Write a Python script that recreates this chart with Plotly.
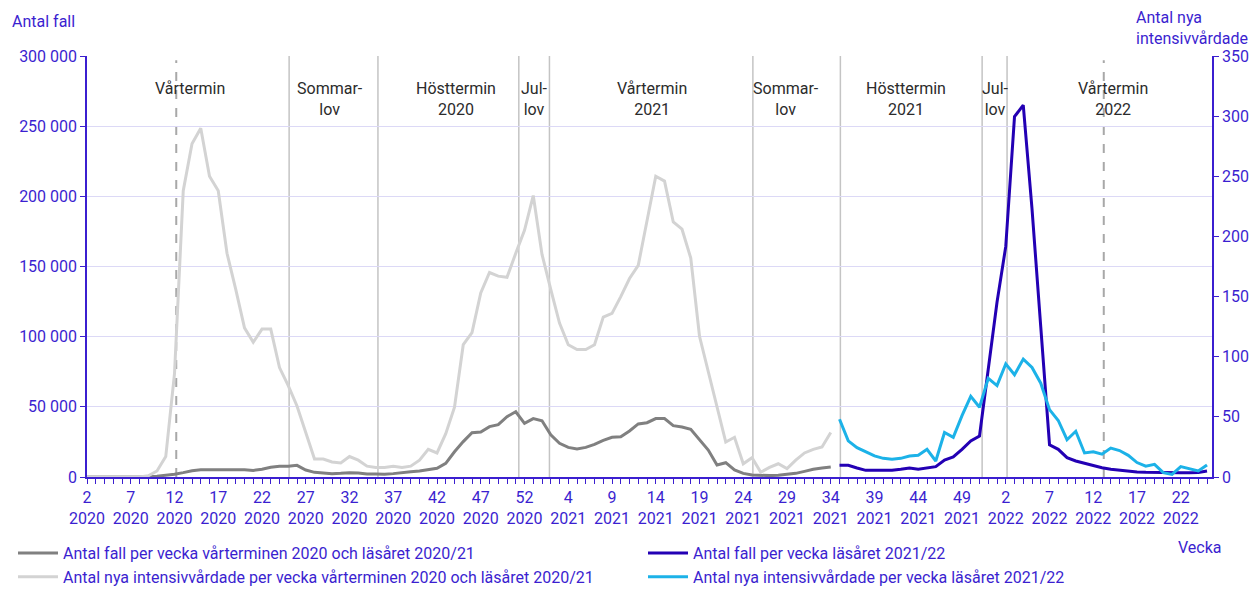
import plotly.graph_objects as go

# ---------------- data ----------------
# x positions are consecutive ISO weeks, index 0 = week 2 of 2020
tick_weeks = [2, 7, 12, 17, 22, 27, 32, 37, 42, 47, 52, 4, 9, 14, 19, 24, 29, 34, 39, 44, 49, 2, 7, 12, 17, 22]
tick_years = [2020] * 11 + [2021] * 10 + [2022] * 5

cases_2020_21 = [0, 0, 0, 0, 0, 0, 0, 200, 600, 1200, 1900, 3100, 4500, 5200, 5300, 5300, 5300, 5200, 5100, 4700,
                 5500, 6900, 7600, 7600, 8300, 5000, 3300, 2600, 2400, 2600, 3100, 2800, 2100, 2100, 1900, 2400,
                 3300, 3800, 4300, 5000, 6200, 9700, 18000, 25200, 31600, 32000, 35900, 37300, 43000, 46500,
                 38200, 41600, 40100, 30000, 24000, 21100, 20000, 21100, 23300, 26100, 28300, 28700, 32800,
                 37800, 38700, 41600, 41600, 36600, 35600, 34000, 26400, 19200, 8600, 10200, 5000, 2600, 1400,
                 1000, 1000, 1200, 1900, 2600, 4000, 5500, 6400, 7100]
icu_2020_21 = [0, 0, 0, 0, 0, 0, 0, 1, 5, 17, 86, 238, 277, 290, 250, 238, 186, 156, 124, 112, 123, 123, 91, 76,
               59, 37, 15, 15, 12.5, 11.6, 17, 14, 9, 8, 8, 9, 8, 9, 14, 23, 20, 36, 58, 110, 120, 153, 170, 167,
               166, 186, 205, 234, 185, 156, 128, 110, 106, 106, 110, 133, 136, 150, 165, 176, 212, 250, 246,
               212, 206, 182, 117, 88, 60, 29, 33, 11, 16, 4, 8, 11, 7, 14, 20, 23, 25, 37]
cases_2021_22 = [8300, 8300, 6400, 4750, 4750, 4750, 4750, 5460, 6400, 5460, 6400, 7360, 12100, 14250, 19700,
                 25650, 29200, 75000, 124500, 164300, 256800, 265000, 191000, 107000, 23000, 19700, 13800,
                 11400, 9700, 8300, 6650, 5460, 4750, 4040, 3560, 3300, 3100, 3000, 3000, 3000, 3000, 3200, 4300]
icu_2021_22 = [48, 30, 24.4, 20.8, 17.5, 15.5, 14.7, 15.5, 17.5, 18, 23, 13.3, 37, 33, 51, 67, 58, 82, 76, 94,
               85, 98, 91, 78, 56, 47, 31, 38, 20, 21, 19, 24, 22, 18, 12, 9, 10.5, 3.6, 2.2, 8.6, 6.9, 5, 10]

left_ticks = [0, 50000, 100000, 150000, 200000, 250000, 300000]
left_ticktext = ["0", "50 000", "100 000", "150 000", "200 000", "250 000", "300 000"]
right_ticks = [0, 50, 100, 150, 200, 250, 300, 350]

period_labels = ["Vårtermin", "Sommar-<br>lov", "Hösttermin<br>2020", "Jul-<br>lov", "Vårtermin<br>2021",
                 "Sommar-<br>lov", "Hösttermin<br>2021", "Jul-<br>lov", "Vårtermin<br>2022"]
period_label_pos = [11.77, 27.77, 42.17, 51.09, 64.57, 79.89, 93.6, 103.83, 117.26]
boundary_solid = [23.1, 33.25, 49.35, 52.85, 76.1, 86.1, 102.3, 105.15]
boundary_dashed = [10.2, 116.2]

# ---------------- styling ----------------
BLUE = "#3b1fd0"
FONT = "Roboto"
PH = 421.0   # plot height in px
PW = 1125.0  # plot width in px


def px_x(p):
    return (p - 87) / PW


def px_y(p):
    return (477 - p) / PH


x_a = list(range(0, len(cases_2020_21)))
x_c = list(range(len(cases_2020_21), len(cases_2020_21) + len(cases_2021_22)))

fig = go.Figure()
fig.add_trace(go.Scatter(x=x_a, y=cases_2020_21, mode="lines", yaxis="y", legend="legend", legendrank=1,
                         name="Antal fall per vecka vårterminen 2020 och läsåret 2020/21",
                         line=dict(color="#808080", width=3)))
fig.add_trace(go.Scatter(x=x_a, y=icu_2020_21, mode="lines", yaxis="y2", legend="legend", legendrank=2,
                         name="Antal nya intensivvårdade per vecka vårterminen 2020 och läsåret 2020/21",
                         line=dict(color="#d3d3d3", width=3)))
fig.add_trace(go.Scatter(x=x_c, y=icu_2021_22, mode="lines", yaxis="y2", legend="legend2", legendrank=4,
                         name="Antal nya intensivvårdade per vecka läsåret 2021/22",
                         line=dict(color="#1cb2e8", width=3)))
fig.add_trace(go.Scatter(x=x_c, y=cases_2021_22, mode="lines", yaxis="y", legend="legend2", legendrank=3,
                         name="Antal fall per vecka läsåret 2021/22",
                         line=dict(color="#2300b4", width=3)))

shapes = []
for b in boundary_solid:
    shapes.append(dict(type="line", xref="x", yref="paper", x0=b, x1=b, y0=0, y1=1,
                       line=dict(color="#c4c4c4", width=1.5), layer="below"))
for b in boundary_dashed:
    shapes.append(dict(type="line", xref="x", yref="paper", x0=b, x1=b, y0=0, y1=0.99,
                       line=dict(color="#a8a8a8", width=2, dash="dash"), layer="below"))

annotations = []
for lab, pos in zip(period_labels, period_label_pos):
    annotations.append(dict(x=pos, xref="x", y=px_y(77), yref="paper", text=lab,
                            showarrow=False, yanchor="top", xanchor="center",
                            font=dict(family=FONT, size=16, color="#2b2b2b")))
annotations.append(dict(x=px_x(10), xref="paper", y=px_y(22), yref="paper",
                        text="Antal fall", showarrow=False, xanchor="left", yanchor="middle",
                        font=dict(family=FONT, size=16, color=BLUE)))
annotations.append(dict(x=px_x(1134), xref="paper", y=px_y(27.5), yref="paper",
                        text="Antal nya<br>intensivvårdade", showarrow=False, xanchor="left",
                        yanchor="middle", align="left", font=dict(family=FONT, size=16, color=BLUE)))
annotations.append(dict(x=px_x(1176), xref="paper", y=px_y(547), yref="paper",
                        text="Vecka", showarrow=False, xanchor="left", yanchor="middle",
                        font=dict(family=FONT, size=16, color=BLUE)))

tickvals = list(range(0, 5 * len(tick_weeks), 5))
ticktext = [f"{w}<br>{y}" for w, y in zip(tick_weeks, tick_years)]

legend_style = dict(orientation="v", xanchor="left", yanchor="top", bgcolor="rgba(0,0,0,0)",
                    font=dict(family=FONT, size=16, color=BLUE), itemwidth=40, tracegroupgap=0,
                    traceorder="normal")

fig.update_layout(
    width=1260, height=589,
    margin=dict(l=87, r=48, t=56, b=112, autoexpand=False),
    paper_bgcolor="white", plot_bgcolor="white",
    font=dict(family=FONT, size=16, color=BLUE),
    shapes=shapes, annotations=annotations,
    showlegend=True,
    legend=dict(x=px_x(13), y=px_y(536), **legend_style),
    legend2=dict(x=px_x(643), y=px_y(536), **legend_style),
    xaxis=dict(range=[0, 128.57], tickmode="array", tickvals=tickvals, ticktext=ticktext,
               showline=True, linecolor=BLUE, linewidth=1.5, ticks="outside", ticklen=5,
               tickcolor=BLUE, tickwidth=1, showgrid=False, zeroline=False, automargin=False,
               tickfont=dict(family=FONT, size=16, color=BLUE),
               minor=dict(dtick=1, tick0=0, ticks="outside", ticklen=5, tickcolor=BLUE, showgrid=False)),
    yaxis=dict(range=[0, 300000], tickmode="array", tickvals=left_ticks, ticktext=left_ticktext,
               showline=True, linecolor=BLUE, linewidth=1.5, ticks="outside", ticklen=5,
               tickcolor=BLUE, showgrid=True, gridcolor="#dcd9f6", gridwidth=1, zeroline=False,
               automargin=False, tickfont=dict(family=FONT, size=16, color=BLUE)),
    yaxis2=dict(range=[0, 350], tickmode="array", tickvals=right_ticks, overlaying="y", side="right",
                showline=True, linecolor=BLUE, linewidth=1.5, ticks="outside", ticklen=5,
                tickcolor=BLUE, showgrid=False, zeroline=False, automargin=False,
                tickfont=dict(family=FONT, size=16, color=BLUE)),
)

fig.write_html("out.html", config={"displayModeBar": False},
               post_script="document.body.style.margin='0px';")
